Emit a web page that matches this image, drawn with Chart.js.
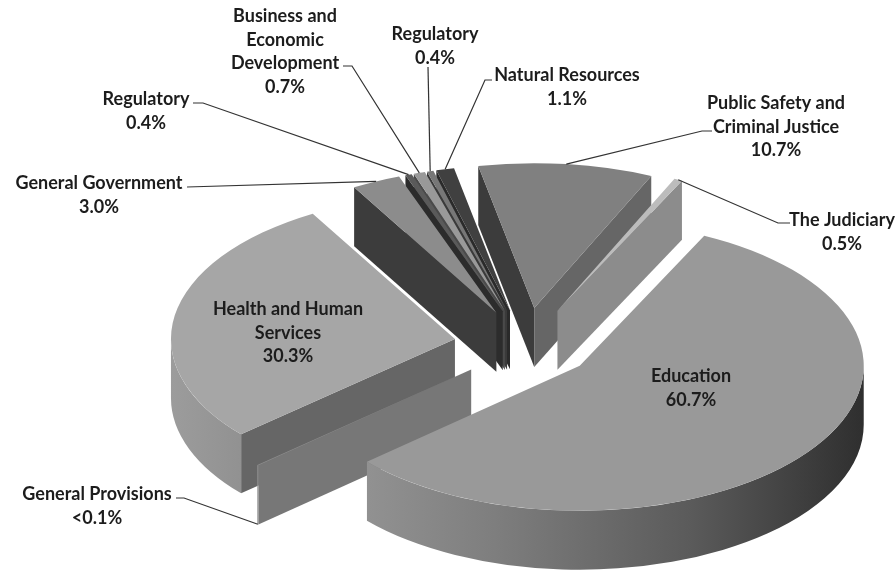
<!DOCTYPE html>
<html>
<head>
<meta charset="utf-8">
<style>
  html, body { margin: 0; padding: 0; background: #fff; }
  canvas { display: block; }
</style>
</head>
<body>
<canvas id="pieChart" width="896" height="570"></canvas>
<script src="https://cdn.jsdelivr.net/npm/chart.js@4"></script>
<script>
// Values, clockwise from the Education slice
const categories = ['Education', 'General Provisions', 'Health and Human Services', 'General Government',
  'Regulatory', 'Business and Economic Development', 'Regulatory', 'Natural Resources',
  'Public Safety and Criminal Justice', 'The Judiciary'];
const values = [60.7, 0.1, 30.3, 3.0, 0.4, 0.7, 0.4, 1.1, 10.7, 0.5];
const valueLabels = ['60.7%', '<0.1%', '30.3%', '3.0%', '0.4%', '0.7%', '0.4%', '1.1%', '10.7%', '0.5%'];

// Slice styling
const explode = [67.5, 73, 72, 70, 70, 70, 70, 70, 73, 74];
const topColors = ['#999999', '#8c8c8c', '#a6a6a6', '#8c8c8c', '#5a5a5a', '#999999', '#777777', '#404040', '#808080', '#bcbcbc'];
const startFace = ['#777', '#777777', '#666666', '#3c3c3c', '#2c2c2c', '#4a4a4a', '#3a3a3a', '#2a2a2a', '#3c3c3c', '#8c8c8c'];
const endFace = ['#777', '#777777', '#666666', '#3c3c3c', '#2c2c2c', '#4a4a4a', '#3a3a3a', '#2a2a2a', '#666666', '#8c8c8c'];
const drawOrder = [8, 9, 7, 6, 5, 4, 3, 2, 1, 0];

// Pie placement on the page
const pieX = 526, pieY = 345, squash = 0.51, depth = 59;

// Label layout: wrapped lines, centre x, first baseline, leader elbow points
const labelLines = [
  ['Education'], ['General Provisions'], ['Health and Human', 'Services'], ['General Government'],
  ['Regulatory'], ['Business and', 'Economic', 'Development'], ['Regulatory'], ['Natural Resources'],
  ['Public Safety and', 'Criminal Justice'], ['The Judiciary']
];
const labelX = [691, 97, 288, 99, 146, 285, 435, 567, 776, 842];
const labelY = [382, 500, 315, 189, 105, 22, 40, 81, 109, 226];
const leaderPts = [
  null,
  [[176, 498], [184, 498]],
  null,
  [[187, 187]],
  [[193, 103], [203, 103]],
  [[343, 66], [352, 66]],
  [[428, 67]],
  [[492, 80], [485, 80]],
  [[712, 131], [702, 131]],
  [[790, 223], [778, 223]]
];
const leaderDrop = [0, 59, 0, 0, 0, 0, 0, 0, 0, 0];

function sliceGeom(arc, i) {
  const mid = (arc.startAngle + arc.endAngle) / 2;
  return {
    cx: pieX + Math.cos(mid) * explode[i],
    cy: pieY + Math.sin(mid) * explode[i] * squash,
    r: arc.outerRadius,
    mid: mid,
    a1: arc.startAngle,
    a2: arc.endAngle
  };
}

function rimPoint(g, a) {
  return { x: g.cx + Math.cos(a) * g.r, y: g.cy + Math.sin(a) * g.r * squash };
}

function drawCutFace(ctx, g, a, color) {
  const p = rimPoint(g, a);
  ctx.fillStyle = color;
  ctx.beginPath();
  ctx.moveTo(g.cx, g.cy);
  ctx.lineTo(p.x, p.y);
  ctx.lineTo(p.x, p.y + depth);
  ctx.lineTo(g.cx, g.cy + depth);
  ctx.closePath();
  ctx.fill();
}

function drawOuterWall(ctx, g) {
  // only the part of the rim that faces the viewer
  let from = g.a1, to = g.a2;
  const turns = Math.ceil((from - Math.PI) / (2 * Math.PI));
  const base = turns * 2 * Math.PI;
  from = Math.max(from, base);
  to = Math.min(to, base + Math.PI);
  if (to <= from) return;
  const left = g.cx - g.r, right = g.cx + g.r;
  const grad = ctx.createLinearGradient(left, 0, right, 0);
  grad.addColorStop(0, '#9c9c9c');
  grad.addColorStop(0.35, '#7e7e7e');
  grad.addColorStop(0.7, '#5a5a5a');
  grad.addColorStop(1, '#2f2f2f');
  ctx.fillStyle = grad;
  ctx.beginPath();
  ctx.ellipse(g.cx, g.cy, g.r, g.r * squash, 0, from, to);
  ctx.ellipse(g.cx, g.cy + depth, g.r, g.r * squash, 0, to, from, true);
  ctx.closePath();
  ctx.fill();
}

const pie3d = {
  id: 'pie3d',
  beforeDatasetDraw(chart, args) {
    const ctx = chart.ctx;
    const arcs = args.meta.data;
    drawOrder.forEach((i) => {
      const arc = arcs[i];
      const g = sliceGeom(arc, i);
      if (Math.cos(g.a1) < 0) drawCutFace(ctx, g, g.a1, startFace[i]);
      if (Math.cos(g.a2) > 0) drawCutFace(ctx, g, g.a2, endFace[i]);
      drawOuterWall(ctx, g);
      ctx.save();
      ctx.translate(g.cx, g.cy);
      ctx.scale(1, squash);
      ctx.translate(-arc.x, -arc.y);
      arc.draw(ctx);
      ctx.restore();
    });
    return false;
  },
  afterDraw(chart) {
    const ctx = chart.ctx;
    const arcs = chart.getDatasetMeta(0).data;
    // leader lines
    ctx.strokeStyle = '#333';
    ctx.lineWidth = 1.2;
    leaderPts.forEach((pts, i) => {
      if (!pts) return;
      const g = sliceGeom(arcs[i], i);
      const end = rimPoint(g, g.mid);
      ctx.beginPath();
      pts.forEach((p, k) => (k ? ctx.lineTo(p[0], p[1]) : ctx.moveTo(p[0], p[1])));
      ctx.lineTo(end.x, end.y + leaderDrop[i]);
      ctx.stroke();
    });
    // labels
    ctx.fillStyle = '#1c1c1c';
    ctx.font = 'bold 18px Lato, "Open Sans", sans-serif';
    ctx.textAlign = 'center';
    ctx.textBaseline = 'alphabetic';
    labelLines.forEach((lines, i) => {
      lines.concat(valueLabels[i]).forEach((line, k) => {
        ctx.fillText(line, labelX[i], labelY[i] + k * 23.6);
      });
    });
  }
};

new Chart(document.getElementById('pieChart').getContext('2d'), {
  type: 'pie',
  data: {
    labels: categories,
    datasets: [{
      data: values,
      backgroundColor: topColors,
      borderWidth: 0,
      clip: false
    }]
  },
  options: {
    responsive: false,
    animation: false,
    rotation: 26,
    radius: 284,
    events: [],
    plugins: {
      legend: { display: false },
      tooltip: { enabled: false }
    }
  },
  plugins: [pie3d]
});
</script>
</body>
</html>
